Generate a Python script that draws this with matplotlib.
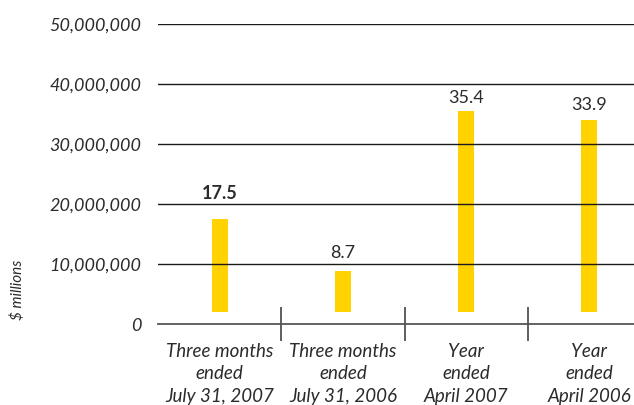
import matplotlib.pyplot as plt
from matplotlib.ticker import FuncFormatter

# Revenue figures, $ millions
periods = ['Three months\nended\nJuly 31, 2007',
           'Three months\nended\nJuly 31, 2006',
           'Year\nended\nApril 2007',
           'Year\nended\nApril 2006']
values = [17.5, 8.7, 35.4, 33.9]
value_labels = ['17.5', '8.7', '35.4', '33.9']
bold_label = [True, False, False, False]
y_ticks = [0, 10_000_000, 20_000_000, 30_000_000, 40_000_000, 50_000_000]

bar_color = '#FFD200'
text_color = '#2b2b2b'
base = 2_000_000   # bars float slightly above the axis line
label_gap = [17, 11, 6, 8]   # px above bar top

plt.rcParams['font.family'] = ['Lato', 'DejaVu Sans']

fig = plt.figure(figsize=(6.34, 4.06), dpi=100)
ax = fig.add_axes([158 / 634, 81.5 / 406, 493 / 634, 300 / 406])

x = range(len(values))
tops = [v * 1_000_000 for v in values]
heights = [t - base for t in tops]
ax.bar(x, heights, bottom=base, width=0.13, color=bar_color, zorder=1)

for i, (t, lab) in enumerate(zip(tops, value_labels)):
    ax.annotate(lab, (i, t), xytext=(0, label_gap[i]), textcoords='offset pixels',
                ha='center', va='bottom', fontsize=13, color=text_color,
                fontweight='bold' if bold_label[i] else 'normal')

ax.set_xlim(-0.5, 3.5)
ax.set_ylim(0, 50_000_000)

# gridlines drawn over the bars
for y in y_ticks[1:]:
    ax.axhline(y, color='#1a1a1a', lw=1.0, zorder=2)
ax.axhline(0, color='#555555', lw=1.3, zorder=2, clip_on=False)

ax.set_yticks(y_ticks)
ax.yaxis.set_major_formatter(FuncFormatter(lambda v, p: f'{int(v):,}'))
ax.tick_params(axis='y', length=0, pad=12, labelsize=13, labelcolor=text_color)
for t in ax.get_yticklabels():
    t.set_fontstyle('italic')

ax.set_xticks(list(x))
ax.set_xticklabels(periods, fontstyle='italic', fontsize=13.5, color=text_color,
                   linespacing=1.4)
ax.tick_params(axis='x', which='major', length=0, pad=13)
ax.set_xticks([0.5, 1.5, 2.5], minor=True)
ax.tick_params(axis='x', which='minor', length=24, direction='inout',
               width=1.1, color='#333333')

for s in ax.spines.values():
    s.set_visible(False)

fig.text(18 / 634, 1 - 290 / 406, '$ millions', rotation=90, fontstyle='italic',
         fontsize=11, color=text_color, ha='center', va='center')

fig.savefig('out.png', dpi=100)
